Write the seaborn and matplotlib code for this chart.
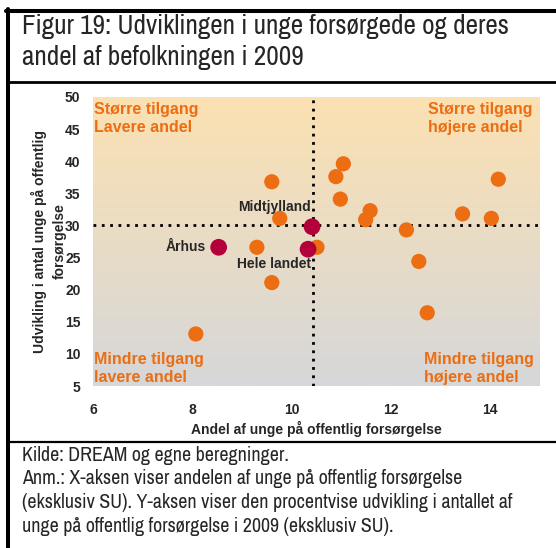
import numpy as np
import pandas as pd
import matplotlib
matplotlib.use("Agg")
import matplotlib.pyplot as plt
from matplotlib.lines import Line2D
from matplotlib import font_manager
import seaborn as sns

# Data
kommune_x = [9.60, 9.76, 9.30, 10.51, 9.60, 11.04, 10.89, 10.98, 11.58, 11.49,
             12.31, 12.56, 13.44, 14.02, 14.16, 8.07, 12.73]
kommune_y = [36.8, 31.1, 26.6, 26.6, 21.1, 39.6, 37.6, 34.1, 32.3, 30.9,
             29.3, 24.4, 31.8, 31.1, 37.2, 13.1, 16.4]
omraade_navn = ["Århus", "Midtjylland", "Hele landet"]
omraade_x = [8.53, 10.41, 10.33]
omraade_y = [26.6, 29.8, 26.3]
ref_x = 10.43
ref_y = 30
x_ticks = [6, 8, 10, 12, 14]
y_ticks = [5, 10, 15, 20, 25, 30, 35, 40, 45, 50]

ORANGE = "#EC6D12"
DARKRED = "#B3003B"

df = pd.DataFrame({
    "x": kommune_x + omraade_x,
    "y": kommune_y + omraade_y,
    "gruppe": ["kommune"] * len(kommune_x) + ["omraade"] * len(omraade_x),
})

sns.set_style("white")
plt.rcParams["font.family"] = ["Liberation Sans", "DejaVu Sans"]

# narrow font for title/notes if one is around
names = {f.name for f in font_manager.fontManager.ttflist}
narrow = "Liberation Sans"
for cand in ["Liberation Sans Narrow", "Arial Narrow", "Archivo Narrow",
             "PT Sans Narrow", "Roboto Condensed", "IBM Plex Sans Condensed",
             "Fira Sans Condensed", "Open Sans Condensed"]:
    if cand in names:
        narrow = cand
        break

fig = plt.figure(figsize=(5.56, 5.48), dpi=100)
ax = fig.add_axes([93 / 556, 1 - 386 / 548, 447 / 556, 289 / 548])

# background gradient
grad = np.linspace(0, 1, 256)[:, None]
top = np.array([252, 225, 178]) / 255
bot = np.array([214, 215, 217]) / 255
img = top[None, None, :] * (1 - grad[:, :, None]) + bot[None, None, :] * grad[:, :, None]
ax.imshow(img, extent=[6, 15, 5, 50], aspect="auto", zorder=0)

ax.axhline(ref_y, color="black", lw=2, ls=(0, (1, 2)), zorder=1)
ax.axvline(ref_x, color="black", lw=2, ls=(0, (1, 2)), zorder=1)

sns.scatterplot(data=df[df.gruppe == "kommune"], x="x", y="y", color=ORANGE,
                s=120, edgecolor="none", ax=ax, zorder=3)
sns.scatterplot(data=df[df.gruppe == "omraade"], x="x", y="y", color=DARKRED,
                s=145, edgecolor="none", ax=ax, zorder=4)

offsets = {"Århus": (-9, 0), "Midtjylland": (-1, 14), "Hele landet": (2, -11)}
for n, xv, yv in zip(omraade_navn, omraade_x, omraade_y):
    dx, dy = offsets[n]
    ax.annotate(n, (xv, yv), xytext=(dx, dy), textcoords="offset points",
                ha="right", va="center", fontsize=10, fontweight="bold", zorder=5)

qkw = dict(transform=ax.transAxes, color=ORANGE, fontsize=11.5,
           fontweight="bold", linespacing=1.25)
ax.text(0.003, 0.982, "Større tilgang\nLavere andel", ha="left", va="top", **qkw)
ax.text(0.750, 0.982, "Større tilgang\nhøjere andel", ha="left", va="top", **qkw)
ax.text(0.003, 0.005, "Mindre tilgang\nlavere andel", ha="left", va="bottom", **qkw)
ax.text(0.741, 0.005, "Mindre tilgang\nhøjere andel", ha="left", va="bottom", **qkw)

ax.set_xlim(6, 15)
ax.set_ylim(5, 50)
ax.set_xticks(x_ticks)
ax.set_yticks(y_ticks)
ax.tick_params(axis="x", length=0, labelsize=10, pad=12)
ax.tick_params(axis="y", length=0, labelsize=10, pad=9)
for lab in ax.get_xticklabels() + ax.get_yticklabels():
    lab.set_fontweight("bold")
ax.set_xlabel("Andel af unge på offentlig forsørgelse", fontsize=10,
              fontweight="bold", labelpad=3)
ax.set_ylabel("Udvikling i antal unge på offentlig\nforsørgelse", fontsize=10,
              fontweight="bold", labelpad=-1, linespacing=1.5)
sns.despine(ax=ax, left=True, bottom=True)

# frame of the figure box
fig.add_artist(Line2D([8 / 556, 8 / 556], [0, 1 - 9 / 548], color="black",
                      lw=2.9, transform=fig.transFigure))
fig.add_artist(Line2D([6 / 556, 1], [1 - 11 / 548, 1 - 11 / 548], color="black",
                      lw=2.9, transform=fig.transFigure))
fig.add_artist(Line2D([8 / 556, 1], [1 - 82 / 548, 1 - 82 / 548], color="black",
                      lw=2, transform=fig.transFigure))
fig.add_artist(Line2D([8 / 556, 1], [1 - 442 / 548, 1 - 442 / 548], color="black",
                      lw=1.6, transform=fig.transFigure))

title = fig.text(22 / 556, 1 - 14 / 548,
                 "Figur 19: Udviklingen i unge forsørgede og deres\nandel af befolkningen i 2009",
                 ha="left", va="top", fontsize=18, family=[narrow, "DejaVu Sans"],
                 linespacing=1.28)
note = fig.text(22 / 556, 1 - 446 / 548,
                "Kilde: DREAM og egne beregninger.\n"
                "Anm.: X-aksen viser andelen af unge på offentlig forsørgelse\n"
                "(eksklusiv SU). Y-aksen viser den procentvise udvikling i antallet af\n"
                "unge på offentlig forsørgelse i 2009 (eksklusiv SU).",
                ha="left", va="top", fontsize=12, family=[narrow, "DejaVu Sans"],
                linespacing=1.3)

# size the title/notes so their widths match the original
fig.canvas.draw()
r = fig.canvas.get_renderer()
for t, target in [(title, 488), (note, 490)]:
    w = t.get_window_extent(r).width
    t.set_fontsize(t.get_fontsize() * target / w)

fig.savefig("out.png", dpi=100)
